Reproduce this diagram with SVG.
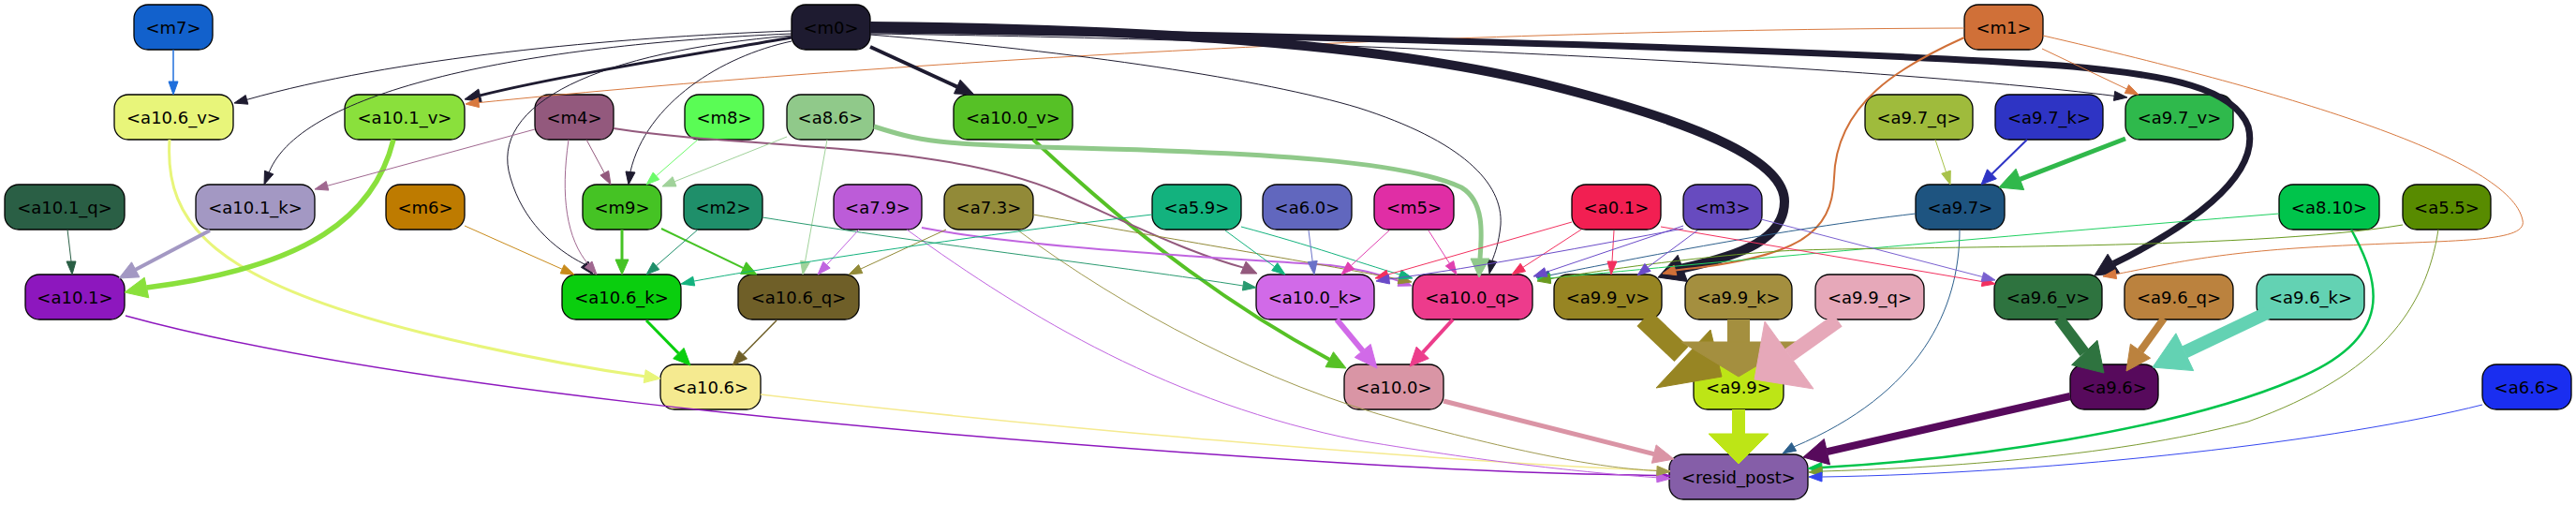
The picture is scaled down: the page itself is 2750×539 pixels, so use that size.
<svg xmlns="http://www.w3.org/2000/svg" width="2750" height="539" viewBox="0 0 2750 539">
<style>
.n rect{stroke:#000;stroke-width:1.3}
.n text{font-family:"DejaVu Sans",Verdana,sans-serif;font-size:18px;text-anchor:middle;fill:#000}
#edges path{fill:none}
</style>
<rect width="2750" height="539" fill="#fff"/>
<g id="nodes">
<g id="n-m7" class="n"><rect x="143" y="5" width="84" height="48" rx="15" fill="#1261cc"/><text x="185" y="35.5">&lt;m7&gt;</text></g>
<g id="n-m0" class="n"><rect x="845" y="5" width="84" height="48" rx="15" fill="#1e1b30"/><text x="887" y="35.5">&lt;m0&gt;</text></g>
<g id="n-m1" class="n"><rect x="2097" y="5" width="84" height="48" rx="15" fill="#d07038"/><text x="2139" y="35.5">&lt;m1&gt;</text></g>
<g id="n-a10.6_v" class="n"><rect x="122" y="101" width="127" height="48" rx="15" fill="#e8f57a"/><text x="185.5" y="131.5">&lt;a10.6_v&gt;</text></g>
<g id="n-a10.1_v" class="n"><rect x="368" y="101" width="128" height="48" rx="15" fill="#8ae03c"/><text x="432" y="131.5">&lt;a10.1_v&gt;</text></g>
<g id="n-m4" class="n"><rect x="571" y="101" width="84" height="48" rx="15" fill="#93597d"/><text x="613" y="131.5">&lt;m4&gt;</text></g>
<g id="n-m8" class="n"><rect x="731" y="101" width="84" height="48" rx="15" fill="#5afc55"/><text x="773" y="131.5">&lt;m8&gt;</text></g>
<g id="n-a8.6" class="n"><rect x="840" y="101" width="93" height="48" rx="15" fill="#90c98a"/><text x="886.5" y="131.5">&lt;a8.6&gt;</text></g>
<g id="n-a10.0_v" class="n"><rect x="1018" y="101" width="127" height="48" rx="15" fill="#56c126"/><text x="1081.5" y="131.5">&lt;a10.0_v&gt;</text></g>
<g id="n-a9.7_q" class="n"><rect x="1991" y="101" width="115" height="48" rx="15" fill="#9fbb3c"/><text x="2048.5" y="131.5">&lt;a9.7_q&gt;</text></g>
<g id="n-a9.7_k" class="n"><rect x="2130" y="101" width="115" height="48" rx="15" fill="#2e34c4"/><text x="2187.5" y="131.5">&lt;a9.7_k&gt;</text></g>
<g id="n-a9.7_v" class="n"><rect x="2269" y="101" width="115" height="48" rx="15" fill="#2fb94c"/><text x="2326.5" y="131.5">&lt;a9.7_v&gt;</text></g>
<g id="n-a10.1_q" class="n"><rect x="5" y="197" width="128" height="48" rx="15" fill="#2a5f45"/><text x="69" y="227.5">&lt;a10.1_q&gt;</text></g>
<g id="n-a10.1_k" class="n"><rect x="209" y="197" width="127" height="48" rx="15" fill="#a398c3"/><text x="272.5" y="227.5">&lt;a10.1_k&gt;</text></g>
<g id="n-m6" class="n"><rect x="412" y="197" width="84" height="48" rx="15" fill="#be7b00"/><text x="454" y="227.5">&lt;m6&gt;</text></g>
<g id="n-m9" class="n"><rect x="622" y="197" width="84" height="48" rx="15" fill="#45c324"/><text x="664" y="227.5">&lt;m9&gt;</text></g>
<g id="n-m2" class="n"><rect x="730" y="197" width="84" height="48" rx="15" fill="#1f8f6a"/><text x="772" y="227.5">&lt;m2&gt;</text></g>
<g id="n-a7.9" class="n"><rect x="890" y="197" width="94" height="48" rx="15" fill="#bc5cd8"/><text x="937" y="227.5">&lt;a7.9&gt;</text></g>
<g id="n-a7.3" class="n"><rect x="1008" y="197" width="95" height="48" rx="15" fill="#928a38"/><text x="1055.5" y="227.5">&lt;a7.3&gt;</text></g>
<g id="n-a5.9" class="n"><rect x="1230" y="197" width="95" height="48" rx="15" fill="#13b27e"/><text x="1277.5" y="227.5">&lt;a5.9&gt;</text></g>
<g id="n-a6.0" class="n"><rect x="1348" y="197" width="95" height="48" rx="15" fill="#6167be"/><text x="1395.5" y="227.5">&lt;a6.0&gt;</text></g>
<g id="n-m5" class="n"><rect x="1467" y="197" width="85" height="48" rx="15" fill="#e02ea5"/><text x="1509.5" y="227.5">&lt;m5&gt;</text></g>
<g id="n-a0.1" class="n"><rect x="1678" y="197" width="95" height="48" rx="15" fill="#f21f52"/><text x="1725.5" y="227.5">&lt;a0.1&gt;</text></g>
<g id="n-m3" class="n"><rect x="1797" y="197" width="84" height="48" rx="15" fill="#674bbf"/><text x="1839" y="227.5">&lt;m3&gt;</text></g>
<g id="n-a9.7" class="n"><rect x="2045" y="197" width="95" height="48" rx="15" fill="#1e5480"/><text x="2092.5" y="227.5">&lt;a9.7&gt;</text></g>
<g id="n-a8.10" class="n"><rect x="2433" y="197" width="107" height="48" rx="15" fill="#00c44b"/><text x="2486.5" y="227.5">&lt;a8.10&gt;</text></g>
<g id="n-a5.5" class="n"><rect x="2565" y="197" width="94" height="48" rx="15" fill="#588b00"/><text x="2612" y="227.5">&lt;a5.5&gt;</text></g>
<g id="n-a10.1" class="n"><rect x="27" y="293" width="106" height="48" rx="15" fill="#8d17be"/><text x="80" y="323.5">&lt;a10.1&gt;</text></g>
<g id="n-a10.6_k" class="n"><rect x="600" y="293" width="127" height="48" rx="15" fill="#0ace0e"/><text x="663.5" y="323.5">&lt;a10.6_k&gt;</text></g>
<g id="n-a10.6_q" class="n"><rect x="788" y="293" width="129" height="48" rx="15" fill="#6f5f28"/><text x="852.5" y="323.5">&lt;a10.6_q&gt;</text></g>
<g id="n-a10.0_k" class="n"><rect x="1341" y="293" width="126" height="48" rx="15" fill="#d16ae8"/><text x="1404" y="323.5">&lt;a10.0_k&gt;</text></g>
<g id="n-a10.0_q" class="n"><rect x="1508" y="293" width="128" height="48" rx="15" fill="#ed3b8c"/><text x="1572" y="323.5">&lt;a10.0_q&gt;</text></g>
<g id="n-a9.9_v" class="n"><rect x="1659" y="293" width="115" height="48" rx="15" fill="#978523"/><text x="1716.5" y="323.5">&lt;a9.9_v&gt;</text></g>
<g id="n-a9.9_k" class="n"><rect x="1799" y="293" width="114" height="48" rx="15" fill="#a48f3f"/><text x="1856" y="323.5">&lt;a9.9_k&gt;</text></g>
<g id="n-a9.9_q" class="n"><rect x="1938" y="293" width="116" height="48" rx="15" fill="#e6a8b9"/><text x="1996" y="323.5">&lt;a9.9_q&gt;</text></g>
<g id="n-a9.6_v" class="n"><rect x="2129" y="293" width="115" height="48" rx="15" fill="#2e733f"/><text x="2186.5" y="323.5">&lt;a9.6_v&gt;</text></g>
<g id="n-a9.6_q" class="n"><rect x="2268" y="293" width="116" height="48" rx="15" fill="#bb823e"/><text x="2326" y="323.5">&lt;a9.6_q&gt;</text></g>
<g id="n-a9.6_k" class="n"><rect x="2409" y="293" width="115" height="48" rx="15" fill="#63d2b3"/><text x="2466.5" y="323.5">&lt;a9.6_k&gt;</text></g>
<g id="n-a10.6" class="n"><rect x="705" y="389" width="107" height="48" rx="15" fill="#f5ea90"/><text x="758.5" y="419.5">&lt;a10.6&gt;</text></g>
<g id="n-a10.0" class="n"><rect x="1435" y="389" width="106" height="48" rx="15" fill="#d995a5"/><text x="1488" y="419.5">&lt;a10.0&gt;</text></g>
<g id="n-a9.9" class="n"><rect x="1808" y="389" width="96" height="48" rx="15" fill="#bde516"/><text x="1856" y="419.5">&lt;a9.9&gt;</text></g>
<g id="n-a9.6" class="n"><rect x="2210" y="389" width="94" height="48" rx="15" fill="#570a5c"/><text x="2257" y="419.5">&lt;a9.6&gt;</text></g>
<g id="n-a6.6" class="n"><rect x="2650" y="389" width="95" height="48" rx="15" fill="#1a2ef0"/><text x="2697.5" y="419.5">&lt;a6.6&gt;</text></g>
<g id="n-resid_post" class="n"><rect x="1782" y="485" width="148" height="48" rx="15" fill="#855ea8"/><text x="1856" y="515.5">&lt;resid_post&gt;</text></g>
</g>
<g id="edges">
<g stroke="#1f6fdc" fill="#1f6fdc"><path stroke-width="1.5" d="M185,53 L185,87"/><polygon points="180,87 190,87 185,101"/></g>
<g stroke="#1e1b30" fill="#1e1b30"><path d="M845,33 C650,40 420,62 263.5,106.4"/><polygon points="264.8,111.2 262.2,101.6 250,110"/></g>
<g stroke="#1e1b30" fill="#1e1b30"><path stroke-width="3" d="M845,40 C760,55 600,80 512.5,101.9"/><polygon points="514.2,108.7 510.8,95.1 496,106"/></g>
<g stroke="#d8793f" fill="#d8793f"><path d="M2097,30 C1500,32 900,70 511,109.6"/><polygon points="511.5,114.6 510.5,104.6 497,111"/></g>
<g stroke="#1e1b30" fill="#1e1b30"><path d="M845,36 C560,48 322,96 287.2,184"/><polygon points="291.8,185.9 282.5,182.2 282,197"/></g>
<g stroke="#1e1b30" fill="#1e1b30"><path d="M845,38 C640,55 520,110 545,190 C558,235 590,265 624.1,282.1"/><polygon points="628,279 620.3,285.3 633,293"/></g>
<g stroke="#1e1b30" fill="#1e1b30"><path d="M845,44 C770,60 690,110 673,183"/><polygon points="668,183 678,184 671,197"/></g>
<g stroke="#1e1b30" fill="#1e1b30"><path stroke-width="4" d="M929,50 L1021.8,92.6"/><polygon points="1025.1,85.3 1018.5,99.9 1040,101"/></g>
<g stroke="#1e1b30" fill="#1e1b30"><path stroke-width="10" d="M929,28 C1150,30 1450,40 1650,90 C1830,135 1905,175 1905,215 C1905,255 1860,272 1796,286.4"/><polygon points="1801.5,300.5 1791.1,272.3 1770,296"/></g>
<g stroke="#1e1b30" fill="#1e1b30"><path stroke-width="7" d="M929,32 C1300,36 1900,50 2200,70 C2320,80 2385,95 2400,135 C2415,190 2330,245 2256.4,281.4"/><polygon points="2262.7,291.6 2250.1,271.2 2236,294"/></g>
<g stroke="#1e1b30" fill="#1e1b30"><path d="M929,36 C1400,42 2000,70 2257.1,102.4"/><polygon points="2256.5,107.4 2257.7,97.4 2271,104"/></g>
<g stroke="#1e1b30" fill="#1e1b30"><path d="M929,37 C1150,55 1350,85 1450,115 C1560,150 1605,195 1602,240 C1600,260 1596,270 1592.9,278.3"/><polygon points="1597.8,279.4 1588,277.3 1590,292"/></g>
<g stroke="#d8793f" fill="#d8793f"><path d="M2180,52 L2270.4,95"/><polygon points="2272.6,90.5 2268.3,99.5 2283,101"/></g>
<g stroke="#d07038" fill="#d07038"><path stroke-width="2" d="M2097,40 C2030,70 1960,110 1958,190 C1956,250 1920,275 1788.5,288.4"/><polygon points="1789.9,293.7 1787.1,283.1 1775,292"/></g>
<g stroke="#d8793f" fill="#d8793f"><path d="M2181,38 C2450,100 2680,170 2693,235 C2700,262 2600,255 2450,265 C2350,272 2300,285 2258.8,292.7"/><polygon points="2259.6,297.6 2258,287.8 2245,295"/></g>
<g stroke="#a8c24a" fill="#a8c24a"><path d="M2066,149 L2077.5,183.7"/><polygon points="2082.3,182.1 2072.8,185.3 2082,197"/></g>
<g stroke="#2e34c5" fill="#2e34c5"><path stroke-width="2" d="M2164,149 L2126.4,185.8"/><polygon points="2131.3,190.8 2121.5,180.8 2115,197"/></g>
<g stroke="#30b84b" fill="#30b84b"><path stroke-width="5" d="M2269,148 L2156.4,191.4"/><polygon points="2160.7,202.6 2152.1,180.2 2134,200"/></g>
<g stroke="#2c5f8c" fill="#2c5f8c"><path d="M2045,228 C1900,245 1750,275 1653.8,293.9"/><polygon points="1654.6,298.8 1653,289 1640,296"/></g>
<g stroke="#2c5f8c" fill="#2c5f8c"><path d="M2092,245 C2092,330 2050,420 1915.1,476.9"/><polygon points="1917.6,481.2 1912.6,472.6 1903,484"/></g>
<g stroke="#1ed060" fill="#1ed060"><path d="M2433,228 C2100,255 1850,278 1655,296.8"/><polygon points="1655.4,301.8 1654.6,291.8 1641,298"/></g>
<g stroke="#00c44b" fill="#00c44b"><path stroke-width="2.5" d="M2510,245 C2540,300 2560,360 2450,405 C2320,460 2100,490 1945,499"/><polygon points="1945.3,504.5 1944.7,493.5 1930,500"/></g>
<g stroke="#6a9a20" fill="#6a9a20"><path d="M2565,240 C2400,268 2000,262 1900,268 C1800,275 1700,290 1654.8,297.7"/><polygon points="1655.6,302.6 1654,292.8 1641,300"/></g>
<g stroke="#7a9a30" fill="#7a9a30"><path d="M2603,245 C2590,330 2540,400 2400,450 C2250,490 2050,500 1945,503"/><polygon points="1945,508 1945,498 1931,504"/></g>
<g stroke="#3547f0" fill="#3547f0"><path d="M2650,432 C2500,470 2200,505 1945,509"/><polygon points="1945,514 1945,504 1931,509"/></g>
<g stroke="#570a5c" fill="#570a5c"><path stroke-width="8" d="M2210,423 L1950.4,482.2"/><polygon points="1953.5,495.9 1947.3,468.5 1925,488"/></g>
<g stroke="#2e733f" fill="#2e733f"><path stroke-width="12" d="M2198,340 L2225.3,376.4"/><polygon points="2239,363.3 2211.6,389.5 2246,398"/></g>
<g stroke="#bb823e" fill="#bb823e"><path stroke-width="8" d="M2310,340 L2285,374.7"/><polygon points="2295.6,382.2 2274.4,367.2 2270,396"/></g>
<g stroke="#63d2b3" fill="#63d2b3"><path stroke-width="14" d="M2420,334 L2332.3,375.7"/><polygon points="2341.7,395.6 2322.9,355.8 2298,392"/></g>
<g stroke="#978523" fill="#978523"><path stroke-width="22" d="M1755,340 L1795,378"/><polygon points="1768,414 1826,352 1838,402"/></g>
<g stroke="#a48f3f" fill="#a48f3f"><path stroke-width="24" d="M1856,341 L1856,366"/><polygon points="1795,365 1918,365 1856,402"/></g>
<g stroke="#e6a8b9" fill="#e6a8b9"><path stroke-width="16" d="M1962,342 L1910,379"/><polygon points="1884,343 1936,415 1873,405"/></g>
<g stroke="#bde516" fill="#bde516"><path stroke-width="14" d="M1856,437 L1856,464"/><polygon points="1824,463 1888,463 1856,495"/></g>
<g stroke="#d16ae8" fill="#d16ae8"><path stroke-width="6" d="M1427,341 L1454.7,374.4"/><polygon points="1463.2,367.4 1446.2,381.4 1470,393"/></g>
<g stroke="#ec3d8b" fill="#ec3d8b"><path stroke-width="4" d="M1551,341 L1518.7,376.4"/><polygon points="1525.3,382.6 1512.1,370.2 1505,391"/></g>
<g stroke="#56c126" fill="#56c126"><path stroke-width="4" d="M1103,149 C1200,240 1300,320 1419.3,383.7"/><polygon points="1423.5,375.7 1415.1,391.7 1437,393"/></g>
<g stroke="#da94a5" fill="#da94a5"><path stroke-width="5" d="M1541,428 L1765.7,484.6"/><polygon points="1768.1,474.9 1763.3,494.3 1787,490"/></g>
<g stroke="#8d17be" fill="#8d17be"><path stroke-width="1.5" d="M134,337 C400,410 900,460 1400,492 C1600,505 1700,506 1769,507.5"/><polygon points="1769,512.5 1769,502.5 1783,508"/></g>
<g stroke="#f5ea90" fill="#f5ea90"><path stroke-width="1.5" d="M812,421 C1100,455 1500,490 1769,502.3"/><polygon points="1769.2,507.3 1768.8,497.3 1783,503"/></g>
<g stroke="#c064e0" fill="#c064e0"><path d="M968,245 C1100,340 1250,430 1450,470 C1600,495 1700,505 1769,509.8"/><polygon points="1768.8,514.8 1769.2,504.8 1783,511"/></g>
<g stroke="#a09a50" fill="#a09a50"><path d="M1087,246 C1200,330 1350,410 1500,450 C1650,490 1720,500 1769,502.5"/><polygon points="1768.7,507.5 1769.3,497.5 1783,503.5"/></g>
<g stroke="#e8f57a" fill="#e8f57a"><path stroke-width="3" d="M181,149 C175,240 230,300 450,355 C560,382 640,395 688.2,401.7"/><polygon points="689.2,394.8 687.2,408.6 705,404"/></g>
<g stroke="#8ae03c" fill="#8ae03c"><path stroke-width="5.5" d="M420,149 C400,230 330,285 156.5,307"/><polygon points="158.8,317.8 154.2,296.2 133,312"/></g>
<g stroke="#a398c3" fill="#a398c3"><path stroke-width="4" d="M224,246 L144.7,287.8"/><polygon points="148.9,295.8 140.5,279.8 127,297"/></g>
<g stroke="#2a5f45" fill="#2a5f45"><path d="M72,245 L76,279"/><polygon points="71,279 81,279 77,293"/></g>
<g stroke="#a06890" fill="#a06890"><path d="M571,138 L349.5,198.3"/><polygon points="350.8,203.1 348.2,193.5 336,202"/></g>
<g stroke="#93597d" fill="#93597d"><path d="M626,149 L645.3,184.7"/><polygon points="649.7,182.3 640.9,187.1 652,197"/></g>
<g stroke="#a06890" fill="#a06890"><path d="M607,149 C598,210 605,255 628.2,282.2"/><polygon points="632,279 624.3,285.3 637,293"/></g>
<g stroke="#93597d" fill="#93597d"><path stroke-width="2" d="M655,137 C800,160 1000,150 1130,205 C1220,245 1270,270 1327.3,285.6"/><polygon points="1330.1,279.2 1324.5,292 1342,292"/></g>
<g stroke="#6cfb6a" fill="#6cfb6a"><path d="M745,149 L700.5,187.8"/><polygon points="703.8,191.6 697.2,184 690,197"/></g>
<g stroke="#a0d29a" fill="#a0d29a"><path d="M840,146 L720,193.8"/><polygon points="722,198.9 718,188.7 707,199"/></g>
<g stroke="#a0d29a" fill="#a0d29a"><path d="M883,149 L859.5,279.2"/><polygon points="864.4,280.1 854.6,278.3 857,293"/></g>
<g stroke="#90c98a" fill="#90c98a"><path stroke-width="5" d="M933,135 C980,150 1000,155 1150,158 C1350,163 1500,172 1560,200 C1585,215 1582,250 1580,276"/><polygon points="1570,276 1590,276 1579,296"/></g>
<g stroke="#45c324" fill="#45c324"><path stroke-width="3" d="M664,245 L664,277"/><polygon points="657,277 671,277 664,293"/></g>
<g stroke="#45c324" fill="#45c324"><path stroke-width="2" d="M706,244 L793.6,286.1"/><polygon points="796.6,279.8 790.6,292.4 808,293"/></g>
<g stroke="#c88a1a" fill="#c88a1a"><path d="M496,241 L600.2,287.3"/><polygon points="602.2,282.7 598.2,291.9 613,293"/></g>
<g stroke="#1f8f6a" fill="#1f8f6a"><path d="M745,245 L700.5,283.8"/><polygon points="703.8,287.6 697.2,280 690,293"/></g>
<g stroke="#2a9a70" fill="#2a9a70"><path d="M814,232 C1000,262 1200,285 1327.1,305"/><polygon points="1326.4,310 1327.8,300 1341,307"/></g>
<g stroke="#c064e0" fill="#c064e0"><path d="M917,245 L882.5,282.7"/><polygon points="886.2,286.1 878.8,279.3 873,293"/></g>
<g stroke="#c064e0" fill="#c064e0"><path stroke-width="2" d="M984,243 C1100,265 1300,275 1420,283 C1460,288 1480,295 1493.9,300.1"/><polygon points="1495.8,294.9 1492,305.3 1507,305"/></g>
<g stroke="#928a38" fill="#928a38"><path d="M1010,245 L918.7,287.1"/><polygon points="920.8,291.6 916.6,282.6 906,293"/></g>
<g stroke="#928a38" fill="#928a38"><path d="M1103,229 C1250,255 1400,280 1493.3,298"/><polygon points="1494.4,293.1 1492.2,302.9 1507,301"/></g>
<g stroke="#13b27e" fill="#13b27e"><path d="M1230,229 C1050,250 850,280 740.7,300.1"/><polygon points="741.7,305 739.7,295.2 727,303"/></g>
<g stroke="#13b27e" fill="#13b27e"><path d="M1308,246 L1360.7,284.7"/><polygon points="1363.7,280.7 1357.7,288.7 1372,293"/></g>
<g stroke="#13b27e" fill="#13b27e"><path d="M1325,242 C1400,262 1450,280 1494.6,293.1"/><polygon points="1496,288.3 1493.2,297.9 1508,297"/></g>
<g stroke="#6a72c8" fill="#6a72c8"><path d="M1397,246 L1401.2,279"/><polygon points="1396.2,279.6 1406.2,278.4 1403,293"/></g>
<g stroke="#e040b0" fill="#e040b0"><path d="M1483,246 L1442.3,283.5"/><polygon points="1445.7,287.2 1438.9,279.8 1432,293"/></g>
<g stroke="#e040b0" fill="#e040b0"><path d="M1525,246 L1547.5,281.2"/><polygon points="1551.7,278.5 1543.3,283.9 1555,293"/></g>
<g stroke="#f2305e" fill="#f2305e"><path d="M1678,237 L1481.5,293.1"/><polygon points="1482.9,297.9 1480.1,288.3 1468,297"/></g>
<g stroke="#f2305e" fill="#f2305e"><path d="M1688,245 L1625.8,285.4"/><polygon points="1628.5,289.6 1623.1,281.2 1614,293"/></g>
<g stroke="#f2305e" fill="#f2305e"><path d="M1723,246 L1721,279"/><polygon points="1716,279 1726,279 1720,293"/></g>
<g stroke="#f2305e" fill="#f2305e"><path d="M1773,242 L2116.2,300.6"/><polygon points="2117,295.7 2115.4,305.5 2130,303"/></g>
<g stroke="#6a4bc8" fill="#6a4bc8"><path d="M1797,244 C1700,262 1580,285 1482.9,298"/><polygon points="1483.6,303 1482.2,293 1469,300"/></g>
<g stroke="#6a4bc8" fill="#6a4bc8"><path d="M1797,241 L1650.3,290.5"/><polygon points="1651.9,295.2 1648.7,285.8 1637,295"/></g>
<g stroke="#6a4bc8" fill="#6a4bc8"><path d="M1812,246 L1759,285.4"/><polygon points="1762.1,289.4 1755.9,281.4 1748,294"/></g>
<g stroke="#7a60d0" fill="#7a60d0"><path d="M1880,234 L2116.4,295.5"/><polygon points="2117.7,290.7 2115.1,300.3 2130,299"/></g>
<g stroke="#0ace0e" fill="#0ace0e"><path stroke-width="3" d="M690,342 L724.4,377.1"/><polygon points="730.1,371.5 718.7,382.7 737,390"/></g>
<g stroke="#6f5f28" fill="#6f5f28"><path stroke-width="1.5" d="M829,342 L793.2,378.6"/><polygon points="797.5,382.8 788.9,374.4 782,390"/></g>
</g>
</svg>
